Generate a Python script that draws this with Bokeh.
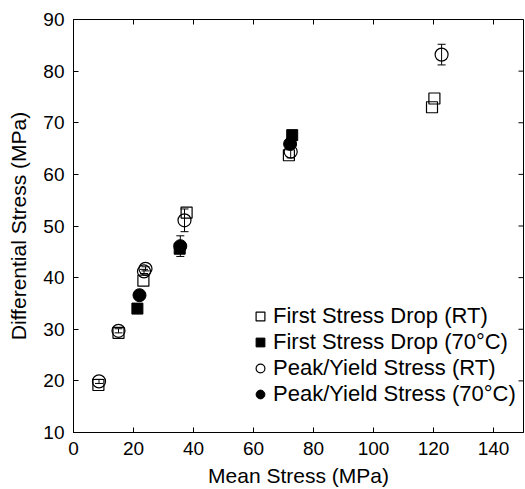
import math
from bokeh.plotting import figure
from bokeh.models import LinearAxis, Legend, LegendItem, Range1d, Whisker, ColumnDataSource, FixedTicker
from bokeh.embed import file_html
from bokeh.resources import INLINE

# First Stress Drop (RT) - open squares
fsd_rt_x = [8.3, 15.0, 23.3, 37.7, 71.8, 119.5, 120.3]
fsd_rt_y = [19.2, 29.3, 39.4, 52.6, 63.7, 73.0, 74.7]
# First Stress Drop (70°C) - filled squares
fsd_70_x = [21.3, 35.4, 72.9]
fsd_70_y = [34.0, 45.6, 67.6]
# Peak/Yield Stress (RT) - open circles
pk_rt_x = [8.5, 15.0, 23.5, 24.0, 37.0, 72.4, 122.7]
pk_rt_y = [19.9, 29.7, 41.2, 41.7, 51.1, 64.4, 83.2]
pk_rt_err = [0.4, 0.4, 0.4, 0.4, 2.2, 1.2, 2.0]
# Peak/Yield Stress (70°C) - filled circles
pk_70_x = [22.0, 35.6, 72.2]
pk_70_y = [36.6, 46.1, 65.9]
pk_70_err = [0.4, 2.0, 0.6]

x_ticks = [0, 20, 40, 60, 80, 100, 120, 140]
y_ticks = [10, 20, 30, 40, 50, 60, 70, 80, 90]

FONT = "Liberation Sans"

p = figure(width=525, height=489, output_backend="svg", toolbar_location=None,
           x_range=Range1d(0, 150), y_range=Range1d(10, 90),
           x_axis_location=None, y_axis_location=None,
           min_border_left=73, min_border_right=2, min_border_top=19, min_border_bottom=56)
p.grid.visible = False
p.outline_line_color = "black"
p.outline_line_width = 1
p.background_fill_color = "white"
p.border_fill_color = "white"

def mk_axis(ticks, label):
    ax = LinearAxis(ticker=FixedTicker(ticks=ticks), axis_label=label)
    ax.major_tick_in = 5
    ax.major_tick_out = 0
    ax.minor_tick_in = 0
    ax.minor_tick_out = 0
    ax.axis_line_color = "black"
    ax.major_tick_line_color = "black"
    ax.major_label_text_font = FONT
    ax.major_label_text_color = "black"
    ax.major_label_text_font_size = "19px"
    ax.major_label_standoff = 9
    ax.axis_label_text_font = FONT
    ax.axis_label_text_font_size = "21px"
    ax.axis_label_text_font_style = "normal"
    ax.axis_label_text_color = "black"
    return ax

xb = mk_axis(x_ticks, "Mean Stress (MPa)")
xb.axis_label_standoff = 6
yl = mk_axis(y_ticks, "Differential Stress (MPa)")
yl.axis_label_standoff = 10
p.add_layout(xb, "below")
p.add_layout(yl, "left")

# inward ticks on top and right edges of the box
p.ray(x=x_ticks, y=[p.y_range.end] * len(x_ticks), length=5, length_units="screen",
      angle=-math.pi / 2, line_color="black", line_width=1)
p.ray(x=[p.x_range.end] * len(y_ticks), y=y_ticks, length=5, length_units="screen",
      angle=math.pi, line_color="black", line_width=1)

# error bars
src_rt = ColumnDataSource(dict(x=pk_rt_x, y=pk_rt_y,
                               lo=[a - b for a, b in zip(pk_rt_y, pk_rt_err)],
                               hi=[a + b for a, b in zip(pk_rt_y, pk_rt_err)]))
src_70 = ColumnDataSource(dict(x=pk_70_x, y=pk_70_y,
                               lo=[a - b for a, b in zip(pk_70_y, pk_70_err)],
                               hi=[a + b for a, b in zip(pk_70_y, pk_70_err)]))
for s in (src_rt, src_70):
    w = Whisker(source=s, base="x", lower="lo", upper="hi", line_color="black", line_width=1)
    w.upper_head.size = 8
    w.lower_head.size = 8
    w.upper_head.line_color = "black"
    w.lower_head.line_color = "black"
    p.add_layout(w)

r1 = p.scatter(fsd_rt_x, fsd_rt_y, marker="square", size=11, fill_color="white",
               fill_alpha=0.0, line_color="black", line_width=1.2)
r2 = p.scatter(fsd_70_x, fsd_70_y, marker="square", size=11, fill_color="black",
               line_color="black")
r3 = p.scatter("x", "y", source=src_rt, marker="circle", size=13, fill_alpha=0.0,
               line_color="black", line_width=1.2)
r4 = p.scatter("x", "y", source=src_70, marker="circle", size=13, fill_color="black",
               line_color="black")

legend = Legend(items=[
    LegendItem(label="First Stress Drop (RT)", renderers=[r1]),
    LegendItem(label="First Stress Drop (70°C)", renderers=[r2]),
    LegendItem(label="Peak/Yield Stress (RT)", renderers=[r3]),
    LegendItem(label="Peak/Yield Stress (70°C)", renderers=[r4]),
], location=(176, 25))
legend.label_text_font = FONT
legend.label_text_font_size = "22px"
legend.label_text_color = "black"
legend.border_line_color = None
legend.background_fill_alpha = 0.0
legend.glyph_width = 22
legend.glyph_height = 22
legend.label_standoff = 2
legend.spacing = 0
legend.label_height = 22
legend.padding = 0
legend.margin = 0
p.add_layout(legend)

open("out.html", "w").write(file_html(p, INLINE))
